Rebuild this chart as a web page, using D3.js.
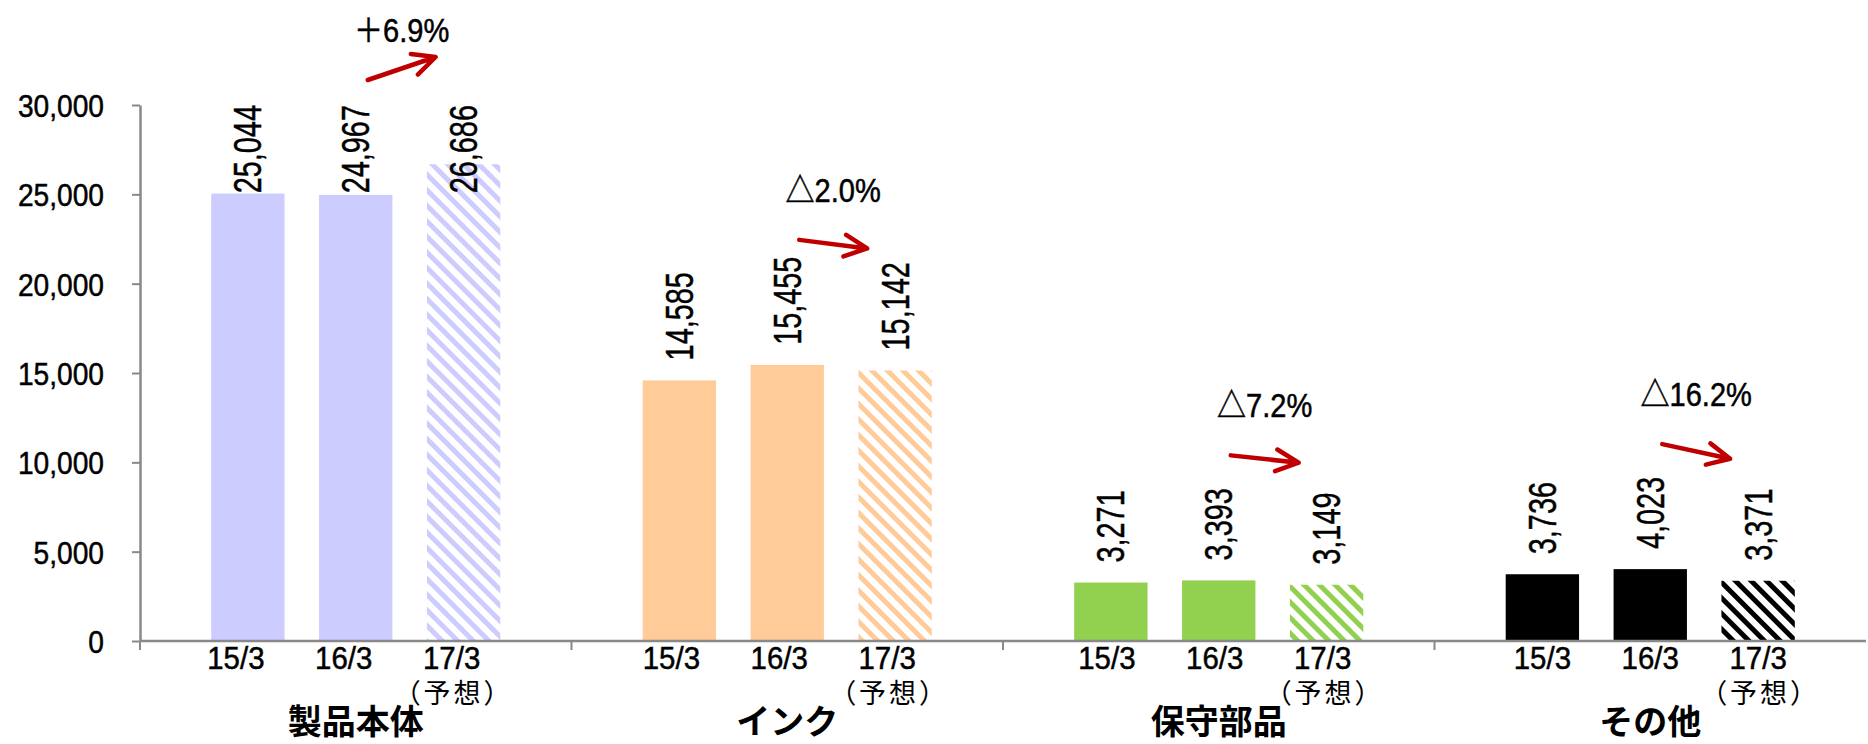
<!DOCTYPE html>
<html><head><meta charset="utf-8">
<script src="https://cdn.jsdelivr.net/npm/d3@7"></script>
<style>html,body{margin:0;padding:0;background:#fff;} svg{display:block}</style>
</head><body>
<svg id="chart" width="1868" height="744"></svg>
<script>
// ---- data ----
const categories = ["製品本体", "インク", "保守部品", "その他"];
const periods = ["15/3", "16/3", "17/3"];
const periodNotes = ["", "", "（予想）"];
const values15 = [25044, 14585, 3271, 3736];
const values16 = [24967, 15455, 3393, 4023];
const values17 = [26686, 15142, 3149, 3371];
const forecastFlags = [false, false, true];
const categoryColors = ["#ccccff", "#ffcc99", "#92d050", "#000000"];
const yTicks = [0, 5000, 10000, 15000, 20000, 25000, 30000];
const changeLabels = ["＋6.9%", "△2.0%", "△7.2%", "△16.2%"];

const seriesValues = [values15, values16, values17];

// ---- layout ----
const svg = d3.select("#chart");
const plot = {left: 140, right: 1866, top: 105, bottom: 641};
const NUM_FONT = "'Liberation Sans', Arial, 'Noto Sans CJK JP', sans-serif";
const JP_FONT = "'Noto Sans CJK JP', 'Noto Sans CJK SC', sans-serif";
const AXIS_COLOR = "#898989";
const ARROW_COLOR = "#c00000";
const TEXT_STROKE = 0.5;

const y = d3.scaleLinear().domain([0, 30000]).range([plot.bottom, plot.top]);
const x0 = d3.scaleBand().domain(categories).range([plot.left, plot.right]).padding(0);
const x1 = d3.scaleBand().domain(periods).range([0, x0.bandwidth()]).paddingInner(0.32).paddingOuter(0.66);
const xLab = d3.scaleBand().domain(categories).range([plot.left - 12, plot.right + 4]).padding(0);

// ---- patterns ----
const defs = svg.append("defs");
categoryColors.forEach((c, i) => {
  const p = defs.append("pattern").attr("id", "stripe" + i)
    .attr("patternUnits", "userSpaceOnUse").attr("width", 11).attr("height", 11)
    .attr("patternTransform", "rotate(-45)");
  p.append("rect").attr("width", 11).attr("height", 11).attr("fill", "#fff");
  p.append("rect").attr("x", 0).attr("width", 5).attr("height", 11).attr("fill", c);
});

// ---- table ----
const table = [];
categories.forEach((cat, ci) => {
  periods.forEach((per, pi) => {
    table.push({cat, ci, per, pi, v: seriesValues[pi][ci]});
  });
});

// ---- bars ----
svg.append("g").selectAll("rect").data(table).join("rect")
  .attr("x", d => x0(d.cat) + x1(d.per))
  .attr("y", d => y(d.v))
  .attr("width", x1.bandwidth())
  .attr("height", d => y(0) - y(d.v))
  .attr("fill", d => forecastFlags[d.pi] ? `url(#stripe${d.ci})` : categoryColors[d.ci]);

// ---- y axis ----
const yAxis = svg.append("g").attr("transform", `translate(${plot.left},0)`)
  .call(d3.axisLeft(y).tickValues(yTicks).tickSize(8).tickSizeOuter(0).tickPadding(28).tickFormat(d3.format(",")));
yAxis.select(".domain").attr("stroke", AXIS_COLOR).attr("stroke-width", 2.5);
yAxis.selectAll(".tick line").attr("stroke", AXIS_COLOR).attr("stroke-width", 2);
yAxis.selectAll(".tick text")
  .attr("font-family", NUM_FONT).attr("font-size", 32).attr("fill", "#000")
  .attr("stroke", "#000").attr("stroke-width", TEXT_STROKE)
  .attr("x", null).attr("dy", "0.358em")
  .attr("transform", "translate(-36,0) scale(0.88,1)");

// ---- x axis ----
const xAxis = svg.append("g");
xAxis.append("line")
  .attr("x1", plot.left).attr("x2", plot.right)
  .attr("y1", y(0)).attr("y2", y(0))
  .attr("stroke", AXIS_COLOR).attr("stroke-width", 2.5);
xAxis.selectAll("line.sep").data(categories).join("line").attr("class", "sep")
  .attr("x1", d => x0(d)).attr("x2", d => x0(d))
  .attr("y1", y(0)).attr("y2", y(0) + 9)
  .attr("stroke", AXIS_COLOR).attr("stroke-width", 2);

// period labels
const labG = svg.append("g");
table.forEach(d => {
  const cx = xLab(d.cat) + x1(d.per) + x1.bandwidth() / 2;
  labG.append("text").text(d.per)
    .attr("font-family", NUM_FONT).attr("font-size", 31).attr("text-anchor", "middle")
    .attr("stroke", "#000").attr("stroke-width", TEXT_STROKE)
    .attr("transform", `translate(${cx},669) scale(0.95,1)`);
  if (periodNotes[d.pi]) {
    labG.append("text").text(periodNotes[d.pi])
      .attr("font-family", JP_FONT).attr("font-size", 27).attr("text-anchor", "middle")
      .attr("letter-spacing", 3)
      .attr("x", cx + 2).attr("y", 703);
  }
});
// category labels
svg.append("g").selectAll("text").data(categories).join("text")
  .text(d => d)
  .attr("x", d => x0(d) + x0.bandwidth() / 2)
  .attr("y", 734)
  .attr("font-family", JP_FONT).attr("font-weight", 700).attr("font-size", 34)
  .attr("text-anchor", "middle");

// ---- value labels ----
const valG = svg.append("g");
table.forEach(d => {
  const cx = x0(d.cat) + x1(d.per) + x1.bandwidth() / 2;
  const t = valG.append("text").text(d3.format(",")(d.v))
    .attr("font-family", NUM_FONT).attr("font-size", 38).attr("dy", "0.358em")
    .attr("stroke", "#000").attr("stroke-width", TEXT_STROKE);
  const len = t.node().getComputedTextLength() * 0.76;
  const bottom = Math.max(y(d.v) - 20, plot.top + len);
  t.attr("transform", `translate(${cx},${bottom}) rotate(-90) scale(0.76,1)`);
});

// ---- change arrows + labels ----
const arrG = svg.append("g");
categories.forEach((cat, ci) => {
  const xs = x0(cat) + x1(periods[1]) + x1.bandwidth() / 2 + 12;
  const xe = x0(cat) + x1(periods[2]) + x1.bandwidth() / 2 - 28;
  const ys = Math.max(y(values16[ci]) - 125, plot.top - 25);
  const ye = Math.max(y(values17[ci]) - 122, ys - 23);
  const a = Math.atan2(ye - ys, xe - xs);
  const L = 25, spread = 0.45;
  const h1 = [xe + L * Math.cos(a + Math.PI - spread), ye + L * Math.sin(a + Math.PI - spread)];
  const h2 = [xe + L * Math.cos(a + Math.PI + spread), ye + L * Math.sin(a + Math.PI + spread)];
  arrG.append("path")
    .attr("d", `M${xs},${ys}L${xe},${ye}M${h1[0]},${h1[1]}L${xe},${ye}L${h2[0]},${h2[1]}`)
    .attr("fill", "none").attr("stroke", ARROW_COLOR).attr("stroke-width", 4.5)
    .attr("stroke-linecap", "round").attr("stroke-linejoin", "round");
  arrG.append("text").text(changeLabels[ci])
    .attr("font-family", NUM_FONT).attr("font-size", 33).attr("text-anchor", "middle")
    .attr("stroke", "#000").attr("stroke-width", TEXT_STROKE)
    .attr("transform", `translate(${(xs + xe) / 2},${ys - 38}) scale(0.88,1)`);
});
</script>
</body></html>
